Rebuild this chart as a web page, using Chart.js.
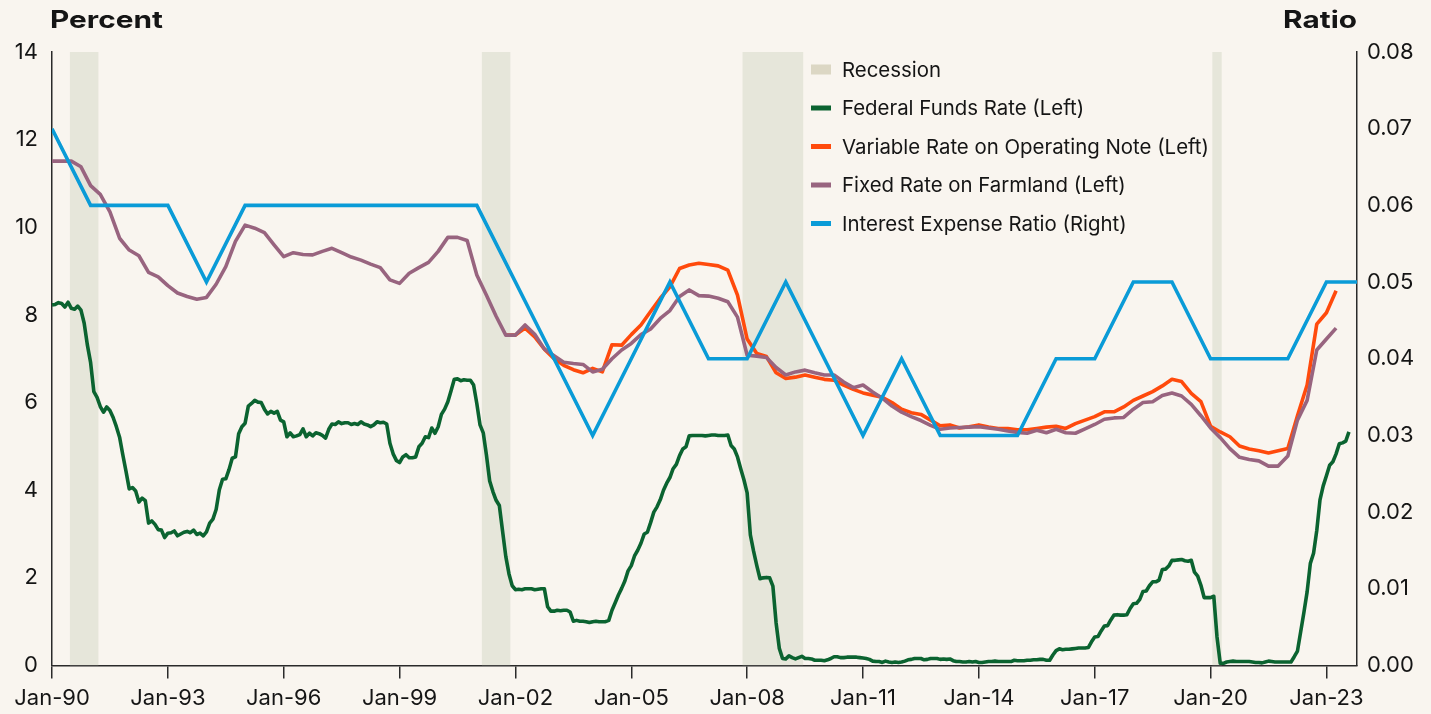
<!DOCTYPE html>
<html>
<head>
<meta charset="utf-8">
<script src="https://cdn.jsdelivr.net/npm/chart.js@4.4.1/dist/chart.umd.min.js"></script>
<style>
  html, body { margin: 0; padding: 0; background: #f9f5ef; }
  #wrap { width: 1431px; height: 714px; position: relative; }
</style>
</head>
<body>
<div id="wrap"><canvas id="farmChart"></canvas></div>
<script>
// x axis is in months since Jan 1990
const xTickLabels = ['Jan-90','Jan-93','Jan-96','Jan-99','Jan-02','Jan-05','Jan-08','Jan-11','Jan-14','Jan-17','Jan-20','Jan-23'];

// recession periods (start, end) as year-month
const recessions = [['1990-07','1991-03'], ['2001-03','2001-11'], ['2007-12','2009-06'], ['2020-02','2020-04']];

// federal funds rate, monthly from Jan 1990 (percent)
const fedFunds = [
  8.23,8.24,8.28,8.26,8.18,8.29,8.15,8.13,8.20,8.11,7.81,7.31,
  6.91,6.25,6.12,5.91,5.78,5.90,5.82,5.66,5.45,5.21,4.81,4.43,
  4.03,4.06,3.98,3.73,3.82,3.76,3.25,3.30,3.22,3.10,3.09,2.92,
  3.02,3.03,3.07,2.96,3.00,3.04,3.06,3.03,3.09,2.99,3.02,2.96,
  3.05,3.25,3.34,3.56,4.01,4.25,4.26,4.47,4.73,4.76,5.29,5.45,
  5.53,5.92,5.98,6.05,6.01,6.00,5.85,5.74,5.80,5.76,5.80,5.60,
  5.56,5.22,5.31,5.22,5.24,5.27,5.40,5.22,5.30,5.24,5.31,5.29,
  5.25,5.19,5.39,5.51,5.50,5.56,5.52,5.54,5.54,5.50,5.52,5.50,
  5.56,5.51,5.49,5.45,5.49,5.56,5.54,5.55,5.51,5.07,4.83,4.68,
  4.63,4.76,4.81,4.74,4.74,4.76,4.99,5.07,5.22,5.20,5.42,5.30,
  5.45,5.73,5.85,6.02,6.27,6.53,6.54,6.50,6.52,6.51,6.51,6.40,
  5.98,5.49,5.31,4.80,4.21,3.97,3.77,3.65,3.07,2.49,2.09,1.82,
  1.73,1.74,1.73,1.75,1.75,1.75,1.73,1.74,1.75,1.75,1.34,1.24,
  1.24,1.26,1.25,1.26,1.26,1.22,1.01,1.03,1.01,1.01,1.00,0.98,
  1.00,1.01,1.00,1.00,1.00,1.03,1.26,1.43,1.61,1.76,1.93,2.16,
  2.28,2.50,2.63,2.79,3.00,3.04,3.26,3.50,3.62,3.78,4.00,4.16,
  4.29,4.49,4.59,4.79,4.94,4.99,5.24,5.25,5.25,5.25,5.25,5.24,
  5.25,5.26,5.26,5.25,5.25,5.25,5.26,5.02,4.94,4.76,4.49,4.24,
  3.94,2.98,2.61,2.28,1.98,2.00,2.01,2.00,1.81,0.97,0.39,0.16,
  0.15,0.22,0.18,0.15,0.18,0.21,0.16,0.16,0.15,0.12,0.12,0.12,
  0.11,0.13,0.16,0.20,0.20,0.18,0.18,0.19,0.19,0.19,0.19,0.18,
  0.17,0.16,0.14,0.10,0.09,0.09,0.07,0.10,0.08,0.07,0.08,0.07,
  0.08,0.10,0.13,0.14,0.16,0.16,0.16,0.13,0.14,0.16,0.16,0.16,
  0.14,0.15,0.14,0.15,0.11,0.09,0.09,0.08,0.08,0.09,0.08,0.09,
  0.07,0.07,0.08,0.09,0.09,0.10,0.09,0.09,0.09,0.09,0.09,0.12,
  0.11,0.11,0.11,0.12,0.12,0.13,0.13,0.14,0.14,0.12,0.12,0.24,
  0.34,0.38,0.36,0.37,0.37,0.38,0.39,0.40,0.40,0.40,0.41,0.54,
  0.65,0.66,0.79,0.90,0.91,1.04,1.15,1.16,1.15,1.15,1.16,1.30,
  1.41,1.42,1.51,1.69,1.70,1.82,1.91,1.91,1.95,2.19,2.20,2.27,
  2.40,2.40,2.41,2.42,2.39,2.38,2.40,2.13,2.04,1.83,1.55,1.55,
  1.55,1.58,0.65,0.05,0.05,0.08,0.09,0.10,0.09,0.09,0.09,0.09,
  0.09,0.08,0.07,0.07,0.06,0.08,0.10,0.09,0.08,0.08,0.08,0.08,
  0.08,0.08,0.20,0.33,0.77,1.21,1.68,2.33,2.56,3.08,3.78,4.10,
  4.33,4.57,4.65,4.83,5.06,5.08,5.12,5.33
];

// fixed rate on farmland, quarterly from 1990 Q1 (percent)
const fixedRate = [
  11.51,11.51,11.51,11.38, 10.95,10.75,10.35,9.75, 9.48,9.35,8.97,8.87,
  8.67,8.50,8.42,8.36, 8.40,8.70,9.10,9.68, 10.05,9.98,9.88,9.60,
  9.33,9.42,9.38,9.37, 9.45,9.52,9.42,9.32, 9.25,9.16,9.08,8.80,
  8.72,8.95,9.08,9.20, 9.45,9.77,9.77,9.70, 8.91,8.45,7.97,7.54,
  7.54,7.77,7.56,7.22, 7.07,6.92,6.89,6.87, 6.70,6.76,7.00,7.20,
  7.35,7.55,7.68,7.92, 8.10,8.42,8.57,8.44, 8.43,8.38,8.30,7.95,
  7.08,7.06,7.03,6.80, 6.63,6.70,6.74,6.68, 6.63,6.63,6.47,6.34,
  6.40,6.24,6.10,5.92, 5.78,5.68,5.59,5.48, 5.39,5.42,5.43,5.44,
  5.45,5.42,5.39,5.35, 5.32,5.30,5.37,5.31, 5.39,5.31,5.30,5.40,
  5.50,5.62,5.65,5.66, 5.85,6.00,6.02,6.16, 6.22,6.15,5.96,5.70,
  5.42,5.20,4.95,4.75, 4.70,4.67,4.55,4.55, 4.78,5.60,6.05,7.20,
  7.45,7.70
];

// variable rate on operating note, quarterly from 2001 Q4 (percent)
const variableStart = '2001-10';
const variableRate = [
  7.54,
  7.54,7.70,7.50,7.22, 7.00,6.85,6.75,6.68, 6.78,6.70,7.32,7.31,
  7.55,7.77,8.08,8.38, 8.64,9.06,9.14,9.18, 9.15,9.12,9.02,8.45,
  7.45,7.12,7.05,6.68, 6.55,6.58,6.63,6.58, 6.53,6.51,6.40,6.30,
  6.22,6.17,6.12,6.00, 5.85,5.77,5.73,5.60, 5.47,5.49,5.42,5.45,
  5.49,5.44,5.41,5.41, 5.38,5.38,5.41,5.44, 5.46,5.41,5.52,5.60,
  5.68,5.79,5.79,5.90, 6.05,6.15,6.25,6.38, 6.53,6.48,6.21,6.02,
  5.46,5.33,5.22,5.01, 4.94,4.90,4.85,4.90, 4.95,5.70,6.40,7.79,
  8.05,8.55
];

// interest expense ratio, annual from 1990 (ratio)
const interestRatio = [
  0.07,0.06,0.06,0.06,0.05,0.06,0.06,0.06,0.06,0.06,0.06,0.06,
  0.05,0.04,0.03,0.04,0.05,0.04,0.04,0.05,0.04,0.03,0.04,0.03,
  0.03,0.03,0.04,0.04,0.05,0.05,0.04,0.04,0.04,0.05,0.05
];

const monthIndex = s => { const [y, m] = s.split('-').map(Number); return (y - 1990) * 12 + (m - 1); };

const recessionPts = [];
recessions.forEach(([a, b]) => {
  const s = monthIndex(a) - 0.5, e = monthIndex(b) + 0.5;
  recessionPts.push({x: s, y: 14}, {x: e, y: 14}, {x: e, y: null});
});

const ffrPts = fedFunds.map((v, i) => ({x: i, y: v}));
const fixedPts = fixedRate.map((v, i) => ({x: i * 3, y: v}));
const varPts = variableRate.map((v, i) => ({x: monthIndex(variableStart) + i * 3, y: v}));
const ratioPts = interestRatio.map((v, i) => ({x: i * 12, y: v}));

const COLORS = {
  recession: '#e6e6da',
  recessionKey: '#dcd7c4',
  ffr: '#0b6330',
  variable: '#ff4a0c',
  fixed: '#98647f',
  ratio: '#0a9bd7',
  text: '#151515',
  axis: '#2a2a2a'
};

const legendItems = [
  {label: 'Recession', color: COLORS.recessionKey, box: true},
  {label: 'Federal Funds Rate (Left)', color: COLORS.ffr},
  {label: 'Variable Rate on Operating Note (Left)', color: COLORS.variable},
  {label: 'Fixed Rate on Farmland (Left)', color: COLORS.fixed},
  {label: 'Interest Expense Ratio (Right)', color: COLORS.ratio}
];

const FONT = 'Inter, "Noto Sans", sans-serif';

const decorations = {
  id: 'decorations',
  afterDraw(chart) {
    const ctx = chart.ctx;
    const area = chart.chartArea;
    ctx.save();
    ctx.fillStyle = COLORS.text;
    ctx.font = 'bold 24px ' + FONT;
    ctx.textBaseline = 'alphabetic';
    // the axis titles use a wide face in the original, so stretch them a bit
    const sx = 1.24;
    ctx.save();
    ctx.scale(sx, 1);
    ctx.textAlign = 'left';
    ctx.fillText('Percent', (area.left - 2) / sx, 28);
    ctx.textAlign = 'right';
    ctx.fillText('Ratio', (area.right) / sx, 28);
    ctx.restore();

    // legend
    ctx.font = '20.4px ' + FONT;
    ctx.textAlign = 'left';
    ctx.textBaseline = 'middle';
    legendItems.forEach((it, i) => {
      const y = 69.5 + i * 38.5;
      ctx.fillStyle = it.color;
      if (it.box) ctx.fillRect(811, y - 5, 20, 10);
      else ctx.fillRect(811, y - 2.5, 20, 5);
      ctx.fillStyle = COLORS.text;
      ctx.fillText(it.label, 842, y + 1);
    });
    ctx.restore();
  }
};

const lineBase = {pointRadius: 0, pointHoverRadius: 0, borderWidth: 3.6, tension: 0, fill: false, spanGaps: true};

new Chart(document.getElementById('farmChart'), {
  type: 'line',
  data: {
    datasets: [
      Object.assign({}, lineBase, {label: 'Interest Expense Ratio (Right)', data: ratioPts, borderColor: COLORS.ratio, yAxisID: 'y1', order: 0}),
      Object.assign({}, lineBase, {label: 'Fixed Rate on Farmland (Left)', data: fixedPts, borderColor: COLORS.fixed, borderJoinStyle: 'round', yAxisID: 'y', order: 1}),
      Object.assign({}, lineBase, {label: 'Variable Rate on Operating Note (Left)', data: varPts, borderColor: COLORS.variable, borderJoinStyle: 'round', yAxisID: 'y', order: 2}),
      Object.assign({}, lineBase, {label: 'Federal Funds Rate (Left)', data: ffrPts, borderColor: COLORS.ffr, borderJoinStyle: 'round', yAxisID: 'y', order: 3}),
      {label: 'Recession', data: recessionPts, yAxisID: 'y', order: 4, borderWidth: 0, pointRadius: 0,
       backgroundColor: COLORS.recession, fill: 'origin', spanGaps: false}
    ]
  },
  options: {
    responsive: true,
    maintainAspectRatio: false,
    animation: false,
    events: [],
    layout: {padding: {top: 52, left: 0, right: 0, bottom: 0}},
    plugins: {legend: {display: false}, tooltip: {enabled: false}},
    scales: {
      x: {
        type: 'linear',
        min: 0,
        max: 405.5,
        afterFit(s) { s.height = 48.5; },
        afterBuildTicks(s) { s.ticks = xTickLabels.map((l, i) => ({value: i * 36})); },
        grid: {display: true, drawOnChartArea: false, drawTicks: true, tickLength: 13, color: COLORS.axis, lineWidth: 1.5},
        border: {display: true, color: COLORS.axis, width: 1.5},
        ticks: {
          color: COLORS.text, font: {family: FONT, size: 22}, padding: 7, maxRotation: 0, autoSkip: false,
          callback: (v) => xTickLabels[Math.round(v / 36)]
        }
      },
      y: {
        position: 'left',
        min: 0, max: 14,
        afterFit(s) { s.width = 52; },
        grid: {display: false, drawTicks: false},
        border: {display: true, color: COLORS.axis, width: 1.5},
        ticks: {stepSize: 2, color: COLORS.text, font: {family: FONT, size: 22}, padding: 14}
      },
      y1: {
        position: 'right',
        min: 0, max: 0.08,
        afterFit(s) { s.width = 74; },
        grid: {display: false, drawTicks: false},
        border: {display: true, color: COLORS.axis, width: 1.5},
        ticks: {stepSize: 0.01, color: COLORS.text, font: {family: FONT, size: 22}, padding: 10,
          callback: (v) => v.toFixed(2)}
      }
    }
  },
  plugins: [decorations]
});
</script>
</body>
</html>
